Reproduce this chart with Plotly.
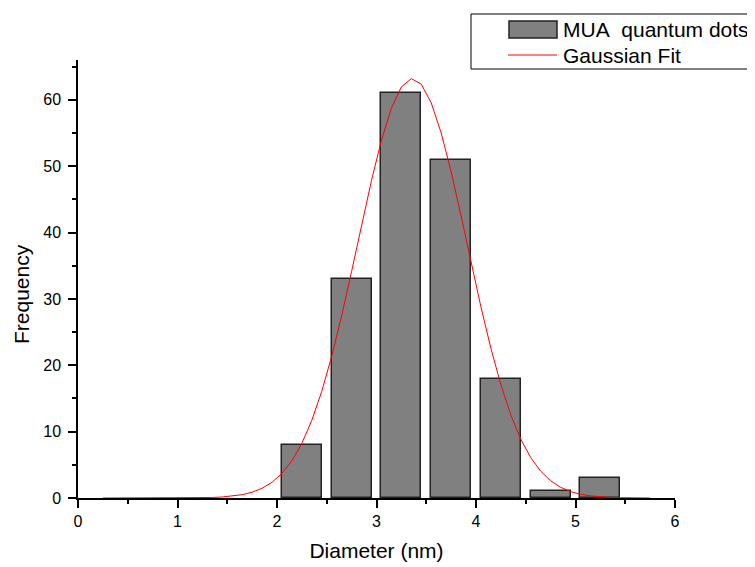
import plotly.graph_objects as go

# Histogram data
bin_centers = [2.25, 2.75, 3.25, 3.75, 4.25, 4.75, 5.25]
frequency = [8, 33, 61, 51, 18, 1, 3]

# Gaussian fit curve
fit_x = [0.25, 0.35, 0.45, 0.55, 0.65, 0.75, 0.85, 0.95,
         1.05, 1.15, 1.25, 1.35, 1.45, 1.55, 1.65, 1.75, 1.85, 1.95,
         2.05, 2.15, 2.25, 2.35, 2.45, 2.55, 2.65, 2.75, 2.85, 2.95,
         3.05, 3.15, 3.25, 3.35, 3.45, 3.55, 3.65, 3.75, 3.85, 3.95,
         4.05, 4.15, 4.25, 4.35, 4.45, 4.55, 4.65, 4.75, 4.85, 4.95,
         5.05, 5.15, 5.25, 5.35, 5.45, 5.55, 5.65, 5.75]
fit_y = [0.0, 0.0, 0.0, 0.0, 0.0, 0.0, 0.0, 0.0,
         0.01, 0.02, 0.04, 0.08, 0.15, 0.28, 0.50, 0.87, 1.46, 2.36,
         3.71, 5.62, 8.25, 11.71, 16.08, 21.37, 27.47, 34.17, 41.11, 47.87,
         53.92, 58.76, 61.95, 63.19, 62.36, 59.54, 55.0, 49.15, 42.5, 35.55,
         28.77, 22.53, 17.06, 12.51, 8.87, 6.08, 4.04, 2.59, 1.61, 0.97,
         0.56, 0.32, 0.17, 0.09, 0.05, 0.02, 0.01, 0.0]

series_names = ["MUA\u00a0 quantum dots", "Gaussian Fit"]
x_title = "Diameter (nm)"
y_title = "Frequency"

FONT = "Arial, 'Liberation Sans', sans-serif"
BAR_FILL = "#808080"
BAR_EDGE = "#222222"

fig = go.Figure()
fig.add_trace(go.Bar(
    x=bin_centers, y=frequency, width=0.4, name=series_names[0],
    marker=dict(color=BAR_FILL, line=dict(color=BAR_EDGE, width=1.5)),
    showlegend=False,
))
fig.add_trace(go.Scatter(
    x=fit_x, y=fit_y, mode="lines", name=series_names[1],
    line=dict(color="red", width=1), showlegend=False,
))

# page body has an 8px offset; figure sized so that it fits the window
OFF = 8
W, H = 747, 559
L, T = 70, 52
pw, ph = 597, 438
R, B = W - L - pw, H - T - ph


def px(xp):
    # page pixel x -> paper coordinate
    return (xp - OFF - L) / pw


def py(yp):
    # page pixel y -> paper coordinate
    return (T + ph - (yp - OFF)) / ph


shapes = [
    dict(type="rect", xref="paper", yref="paper",
         x0=px(471), x1=px(770), y0=py(69), y1=py(14),
         line=dict(color="black", width=1), fillcolor="white", layer="above"),
    dict(type="rect", xref="paper", yref="paper",
         x0=px(509), x1=px(557), y0=py(38), y1=py(21),
         line=dict(color=BAR_EDGE, width=1.5), fillcolor=BAR_FILL, layer="above"),
    dict(type="line", xref="paper", yref="paper",
         x0=px(508), x1=px(557), y0=py(55), y1=py(55),
         line=dict(color="red", width=1), layer="above"),
]
annotations = [
    dict(xref="paper", yref="paper", x=px(561), y=py(29), xanchor="left",
         yanchor="middle", text=series_names[0], showarrow=False,
         font=dict(family=FONT, size=21, color="black")),
    dict(xref="paper", yref="paper", x=px(561), y=py(55), xanchor="left",
         yanchor="middle", text=series_names[1], showarrow=False,
         font=dict(family=FONT, size=21, color="black")),
    dict(xref="paper", yref="paper", x=px(21), y=py(294), xanchor="center",
         yanchor="middle", text=y_title, textangle=-90, showarrow=False,
         font=dict(family=FONT, size=21, color="black")),
]

axis_common = dict(
    showline=True, linecolor="black", linewidth=1.5, mirror=False,
    ticks="outside", ticklen=8, tickwidth=1.5, tickcolor="black",
    showgrid=False, zeroline=False,
    tickfont=dict(family=FONT, size=16, color="black"),
)

fig.update_layout(
    width=W, height=H, autosize=False,
    margin=dict(l=L, r=R, t=T, b=B),
    plot_bgcolor="white", paper_bgcolor="white",
    font=dict(family=FONT, color="black"),
    bargap=0,
    shapes=shapes, annotations=annotations,
    xaxis=dict(range=[0, 6], dtick=1, tick0=0,
               minor=dict(dtick=0.5, ticklen=4, tickwidth=1.5, tickcolor="black", ticks="outside"),
               title=dict(text=x_title, font=dict(family=FONT, size=21), standoff=14),
               automargin=False,
               **axis_common),
    yaxis=dict(range=[0, 66], dtick=10, tick0=0,
               minor=dict(dtick=5, ticklen=4, tickwidth=1.5, tickcolor="black", ticks="outside"),
               ticklabelstandoff=4, automargin=False,
               **axis_common),
)

fig.write_html("out.html")
